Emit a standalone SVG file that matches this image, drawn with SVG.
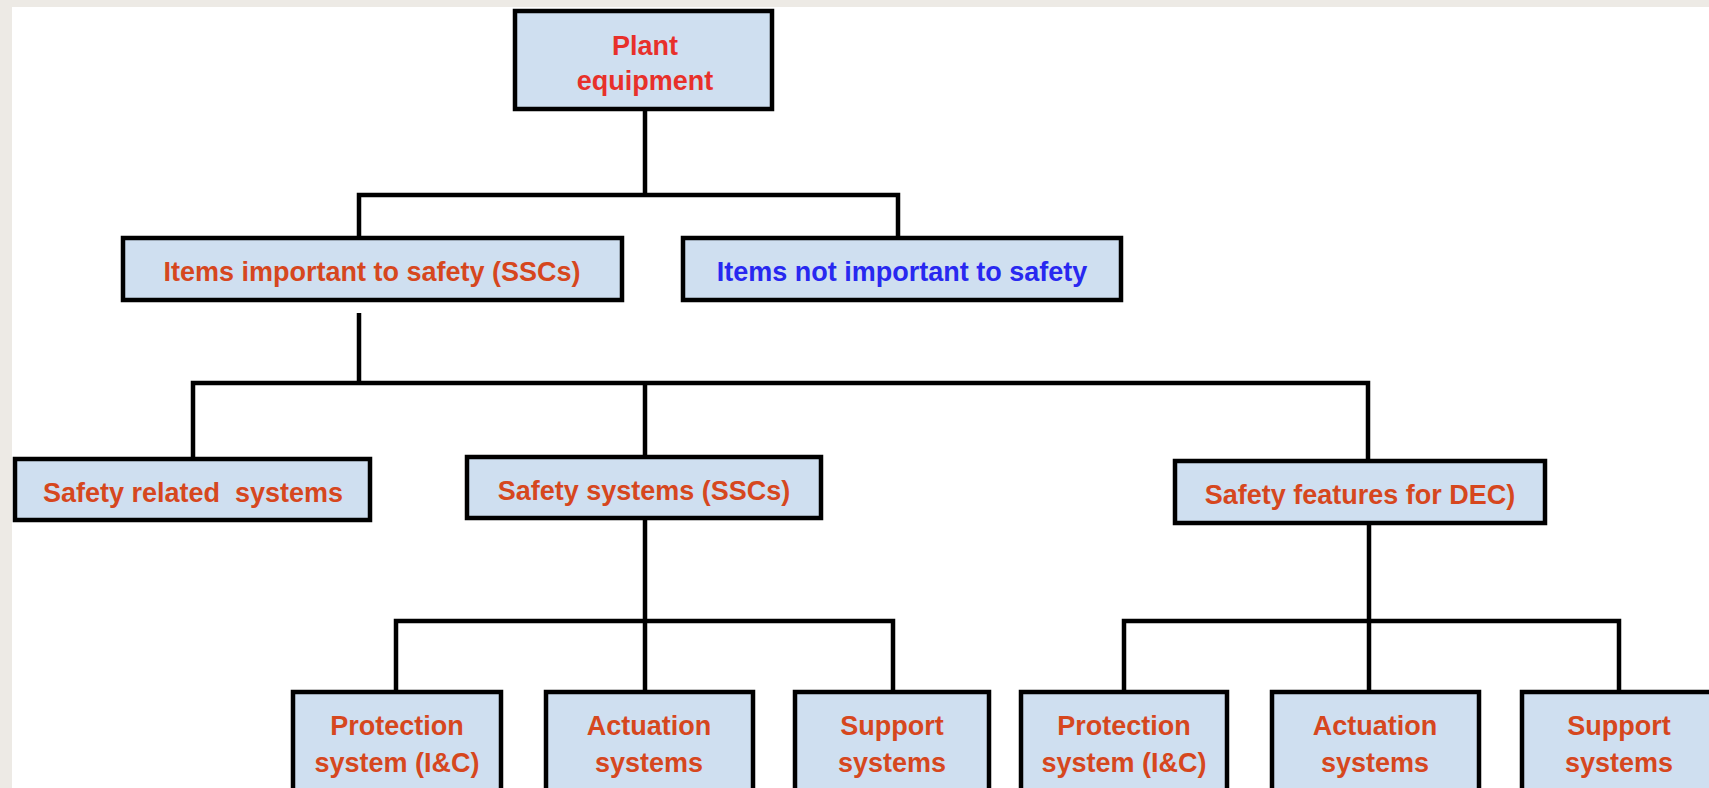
<svg xmlns="http://www.w3.org/2000/svg" width="1709" height="788" viewBox="0 0 1709 788">
<style>
.box{fill:#CFDFF0;stroke:#000;stroke-width:4.5}
.t{font-family:"Liberation Sans",Arial,sans-serif;font-weight:bold;font-size:27px;text-anchor:middle;fill:#D6471E;white-space:pre}
.red{fill:#E8302A}
.blue{fill:#2828F0}
.c{fill:none;stroke:#000;stroke-width:4.5}
</style>
<rect x="0" y="0" width="1709" height="788" fill="#EDEAE5"/>
<rect x="12" y="7" width="1697" height="781" fill="#FFFFFF"/>
<g id="connectors" class="c">
<path d="M645 109V195M359 238V195H898V238"/>
<path d="M359 313V383M193 459V383H1368V461M645 383V457"/>
<path d="M645 518V621M396 692V621H893V692M645 621V692"/>
<path d="M1369 523V621M1124 692V621H1619V692M1369 621V692"/>
</g>
<g id="plant"><rect class="box" x="515" y="11" width="257" height="98"/><text class="t red" x="645" y="55">Plant</text><text class="t red" x="645" y="90">equipment</text></g>
<g id="important"><rect class="box" x="123" y="238" width="499" height="62"/><text class="t" x="372" y="281">Items important to safety (SSCs)</text></g>
<g id="notimportant"><rect class="box" x="683" y="238" width="438" height="62"/><text class="t blue" x="902" y="281">Items not important to safety</text></g>
<g id="related"><rect class="box" x="15" y="459" width="355" height="61"/><text class="t" x="193" y="502">Safety related  systems</text></g>
<g id="safetysys"><rect class="box" x="467" y="457" width="354" height="61"/><text class="t" x="644" y="500">Safety systems (SSCs)</text></g>
<g id="dec"><rect class="box" x="1175" y="461" width="370" height="62"/><text class="t" x="1360" y="504">Safety features for DEC)</text></g>
<g id="prot1"><rect class="box" x="293" y="692" width="208" height="110"/><text class="t" x="397" y="735">Protection</text><text class="t" x="397" y="772">system (I&amp;C)</text></g>
<g id="act1"><rect class="box" x="546" y="692" width="207" height="110"/><text class="t" x="649" y="735">Actuation</text><text class="t" x="649" y="772">systems</text></g>
<g id="sup1"><rect class="box" x="795" y="692" width="194" height="110"/><text class="t" x="892" y="735">Support</text><text class="t" x="892" y="772">systems</text></g>
<g id="prot2"><rect class="box" x="1021" y="692" width="206" height="110"/><text class="t" x="1124" y="735">Protection</text><text class="t" x="1124" y="772">system (I&amp;C)</text></g>
<g id="act2"><rect class="box" x="1272" y="692" width="207" height="110"/><text class="t" x="1375" y="735">Actuation</text><text class="t" x="1375" y="772">systems</text></g>
<g id="sup2"><rect class="box" x="1522" y="692" width="200" height="110"/><text class="t" x="1619" y="735">Support</text><text class="t" x="1619" y="772">systems</text></g>
</svg>
